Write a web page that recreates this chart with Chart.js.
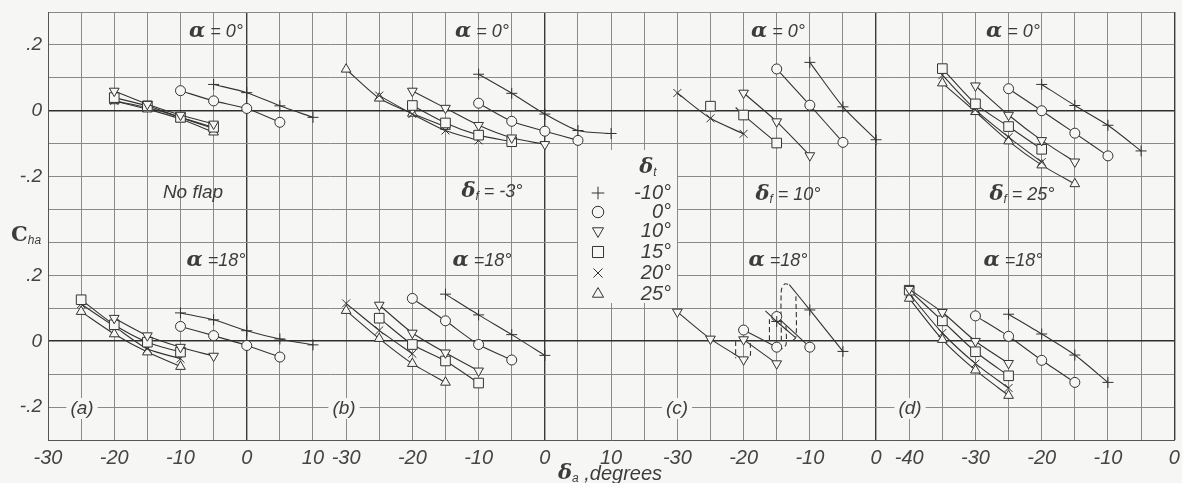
<!DOCTYPE html>
<html>
<head>
<meta charset="utf-8">
<script src="https://cdn.jsdelivr.net/npm/chart.js@4.4.1/dist/chart.umd.min.js"></script>
<style>
  html, body { margin: 0; padding: 0; background: #f6f6f4; }
  canvas { display: block; }
</style>
</head>
<body>
<canvas id="chart" width="1182" height="483"></canvas>
<script>
// series order in every panel: delta_t = -10, 0, 10, 15, 20, 25 deg  (+ o v [] x ^)
// null breaks a curve
const tabLabels = ["-10°", "0°", "10°", "15°", "20°", "25°"];
const panelTags = ["(a)", "(b)", "(c)", "(d)"];
const flapLabels = ["No flap", "-3°", "10°", "25°"];
const alphaLabels = ["0°", "18°"];

const aTicks = [-30, -20, -10, 0, 10];
const bTicks = [-30, -20, -10, 0, 10];
const cTicks = [-30, -20, -10, 0];
const dTicks = [-40, -30, -20, -10, 0];
const yTickValues = [0.2, 0, -0.2];
const yTickLabels = [".2", "0", "-.2"];

// (a) no flap
const aTop = [
  [[-5, 0.08], [0, 0.055], [5, 0.015], [10, -0.02]],
  [[-10, 0.061], [-5, 0.03], [0, 0.007], [5, -0.035]],
  [[-20, 0.06], [-15, 0.02], [-10, -0.013], [-5, -0.04]],
  [[-20, 0.04], [-15, 0.015], [-10, -0.02], [-5, -0.05]],
  [[-20, 0.03], [-15, 0.01], [-10, -0.02], [-5, -0.055]],
  [[-20, 0.03], [-15, 0.005], [-10, -0.025], [-5, -0.065]]
];
const aBottom = [
  [[-10, 0.086], [-5, 0.065], [0, 0.032], [5, 0.007], [10, -0.011]],
  [[-10, 0.045], [-5, 0.017], [0, -0.013], [5, -0.048]],
  [[-20, 0.07], [-15, 0.017], [-10, -0.018], [-5, -0.045]],
  [[-25, 0.126], [-20, 0.05], [-15, -0.003], [-10, -0.033]],
  [[-25, 0.113], [-20, 0.045], [-15, -0.023], [-10, -0.053]],
  [[-25, 0.09], [-20, 0.022], [-15, -0.033], [-10, -0.077]]
];

// (b) flap -3
const bTop = [
  [[-10, 0.111], [-5, 0.053], [0, -0.01], [5, -0.06], [10, -0.069]],
  [[-10, 0.023], [-5, -0.032], [0, -0.062], [5, -0.09]],
  [[-20, 0.06], [-15, 0.008], [-10, -0.044], [-5, -0.082], [0, -0.102]],
  [[-20, 0.016], [-15, -0.037], [-10, -0.074], [-5, -0.094]],
  [[-25, 0.046], [-20, -0.01], [-15, -0.06], [-10, -0.09]],
  [[-30, 0.126], [-25, 0.038], [-20, -0.008], [-15, -0.048]]
];
const bBottom = [
  [[-15, 0.143], [-10, 0.08], [-5, 0.02], [0, -0.043]],
  [[-20, 0.13], [-15, 0.062], [-10, -0.01], [-5, -0.057]],
  [[-25, 0.11], [-20, 0.025], [-15, -0.035], [-10, -0.09]],
  [[-25, 0.07], [-20, -0.01], [-15, -0.06], [-10, -0.127]],
  [[-30, 0.115], [-25, 0.033], [-20, -0.038]],
  [[-30, 0.093], [-25, 0.008], [-20, -0.068], [-15, -0.125]]
];

// (c) flap 10
const cTop = [
  [[-10, 0.147], [-5, 0.012], [0, -0.088]],
  [[-15, 0.127], [-10, 0.017], [-5, -0.096]],
  [[-20, 0.054], [-15, -0.033], [-10, -0.136]],
  [[-25, 0.014], null, [-21.2, 0.01], [-20, -0.013], [-15, -0.098]],
  [[-30, 0.054], [-25, -0.023], [-20, -0.07]],
  []
];
const cBottom = [
  [[-16.7, 0.092], [-15, 0.06], [-12.2, 0.012], null, [-13.1, 0.172], [-10, 0.095], [-5, -0.031]],
  [[-20, 0.034], [-15, -0.018], null, [-15, 0.075], [-10, -0.018]],
  [[-30, 0.089], [-25, 0.007], [-20, -0.056], null, [-20, 0.005], [-15, -0.068]],
  [],
  [],
  []
];
const cBottomDashed = [
  [[-21.2, 0.0], [-21.2, -0.052]],
  [[-19.0, -0.005], [-19.0, -0.045], [-19.5, -0.054]],
  [[-16.1, 0.067], [-16.1, -0.008]],
  [[-13.6, 0.047], [-13.6, -0.01], [-14.3, -0.025]],
  [[-14.3, 0.002], [-14.3, 0.155], [-13.8, 0.174], [-13.1, 0.172]],
  [[-12.1, 0.137], [-12.1, 0.012], [-12.8, 0.0]]
];

// (d) flap 25
const dTop = [
  [[-20, 0.08], [-15, 0.016], [-10, -0.044], [-5, -0.122]],
  [[-25, 0.067], [-20, 0.0], [-15, -0.068], [-10, -0.137]],
  [[-30, 0.076], [-25, -0.013], [-20, -0.09], [-15, -0.155]],
  [[-35, 0.128], [-30, 0.021], [-25, -0.048], [-20, -0.117]],
  [[-35, 0.108], [-30, 0.003], [-25, -0.08], [-20, -0.156]],
  [[-35, 0.084], [-30, -0.003], [-25, -0.092], [-20, -0.165], [-15, -0.222]]
];
const dBottom = [
  [[-25, 0.082], [-20, 0.022], [-15, -0.042], [-10, -0.125]],
  [[-30, 0.077], [-25, 0.015], [-20, -0.058], [-15, -0.125]],
  [[-40, 0.158], [-35, 0.088], [-30, 0.0], [-25, -0.067]],
  [[-40, 0.155], [-35, 0.062], [-30, -0.032], [-25, -0.105]],
  [[-40, 0.145], [-35, 0.025], [-30, -0.068], [-25, -0.142]],
  [[-40, 0.13], [-35, 0.005], [-30, -0.088], [-25, -0.165]]
];

// every panel shares one long x axis; panel k starts where the previous ends
const panelShift = [30, 75, 125, 170];
const panelTicks = [aTicks, bTicks, cTicks, dTicks];
const topShift = 0.7; // alpha = 0 row sits 7 grid cells above the alpha = 18 row

const INK = "#333";
const PAPER = "#f6f6f4";
const markerStyles = [
  { pointStyle: "cross", r: 5.5, rot: 0 },
  { pointStyle: "circle", r: 5, rot: 0 },
  { pointStyle: "triangle", r: 5.6, rot: 180 },
  { pointStyle: "rect", r: 6.8, rot: 0 },
  { pointStyle: "crossRot", r: 5.6, rot: 0 },
  { pointStyle: "triangle", r: 5.6, rot: 0 }
];

const datasets = [];

function splitRuns(pts) {
  const runs = [[]];
  pts.forEach(p => {
    if (p === null) runs.push([]);
    else runs[runs.length - 1].push(p);
  });
  return runs.filter(r => r.length);
}

function addRow(rows, p, yShift) {
  rows.forEach((pts, i) => {
    const st = markerStyles[i];
    splitRuns(pts).forEach(run => {
      datasets.push({
        data: run.map(pt => ({ x: pt[0] + panelShift[p], y: pt[1] + yShift, mark: pt[0] % 5 === 0 })),
        showLine: true,
        borderColor: INK,
        borderWidth: 1.1,
        tension: 0.25,
        pointStyle: st.pointStyle,
        pointRotation: st.rot,
        pointRadius: ctx => (ctx.raw && ctx.raw.mark ? st.r : 0),
        pointHoverRadius: ctx => (ctx.raw && ctx.raw.mark ? st.r : 0),
        pointBackgroundColor: PAPER,
        pointBorderColor: INK,
        pointBorderWidth: 1
      });
    });
  });
}

function addDashed(rows, p, yShift) {
  rows.forEach(run => {
    datasets.push({
      data: run.map(pt => ({ x: pt[0] + panelShift[p], y: pt[1] + yShift })),
      showLine: true,
      borderColor: INK,
      borderWidth: 1.1,
      borderDash: [5, 3],
      tension: 0.3,
      pointRadius: 0,
      pointHoverRadius: 0
    });
  });
}

const panels = [[aTop, aBottom], [bTop, bBottom], [cTop, cBottom], [dTop, dBottom]];
panels.forEach(([top, bottom], p) => {
  addRow(top, p, topShift);
  addRow(bottom, p, 0);
});
addDashed(cBottomDashed, 2, 0);

function near(a, b) { return Math.abs(a - b) < 1e-6; }

function xLabel(value) {
  for (let p = 0; p < panelShift.length; p++) {
    const v = value - panelShift[p];
    if (panelTicks[p].some(t => near(t, v))) return String(Math.round(v));
  }
  return "";
}

function yLabel(value) {
  for (let i = 0; i < yTickValues.length; i++) {
    if (near(value, yTickValues[i] + topShift) || near(value, yTickValues[i])) return yTickLabels[i];
  }
  return "";
}

const isPanelZero = v => panelShift.some(s => near(v, s));
const isRowZero = v => near(v, 0) || near(v, topShift);

const greek = 'bold italic 21px "DejaVu Serif"';
const lettering = 'italic 18px "Liberation Sans"';
const small = 'italic 12px "Liberation Sans"';

function rich(ctx, parts, x, y, align) {
  let w = 0;
  parts.forEach(p => { ctx.font = p.f; p.w = ctx.measureText(p.t).width; w += p.w; });
  let cx = align === "center" ? x - w / 2 : align === "right" ? x - w : x;
  ctx.textAlign = "left";
  ctx.textBaseline = "middle";
  parts.forEach(p => { ctx.font = p.f; ctx.fillText(p.t, cx, y + (p.dy || 0)); cx += p.w; });
  return w;
}

const paperPlugin = {
  id: "paper",
  beforeDraw(chart) {
    const ctx = chart.ctx;
    ctx.save();
    ctx.fillStyle = PAPER;
    ctx.fillRect(0, 0, chart.width, chart.height);
    ctx.restore();
  }
};

const notesPlugin = {
  id: "notes",
  afterDraw(chart) {
    const ctx = chart.ctx;
    ctx.save();
    ctx.fillStyle = "#3c3c3c";

    const alphaX = [216, 482, 778, 1013];
    const flapX = [193, 492, 788, 1022];
    const flapY = [193, 192, 195, 195];
    const tagX = [82, 344, 677, 910];
    alphaX.forEach((x, p) => {
      rich(ctx, [{ t: "α", f: greek }, { t: " = " + alphaLabels[0], f: lettering }], x, 32, "center");
      rich(ctx, [{ t: "α", f: greek }, { t: " =" + alphaLabels[1], f: lettering }], x, 261, "center");
      if (p === 0) {
        rich(ctx, [{ t: flapLabels[0], f: 'italic 19px "Liberation Sans"' }], flapX[p], flapY[p], "center");
      } else {
        rich(ctx, [{ t: "δ", f: greek }, { t: "f", f: small, dy: 5 }, { t: " = " + flapLabels[p], f: lettering }], flapX[p], flapY[p], "center");
      }
      ctx.font = 'italic 19px "Liberation Sans"';
      const w = ctx.measureText(panelTags[p]).width;
      ctx.fillStyle = PAPER;
      ctx.fillRect(tagX[p] - w / 2 - 4, 398, w + 8, 21);
      ctx.fillStyle = "#3c3c3c";
      rich(ctx, [{ t: panelTags[p], f: 'italic 19px "Liberation Sans"' }], tagX[p], 409, "center");
    });

    // delta_t key
    ctx.fillStyle = PAPER;
    ctx.fillRect(578, 150, 99, 153);
    ctx.fillStyle = "#3c3c3c";
    rich(ctx, [{ t: "δ", f: greek }, { t: "t", f: small, dy: 5 }], 648, 168, "center");
    const rowY = [193, 212, 231, 252, 273, 294];
    tabLabels.forEach((lab, i) => {
      const st = markerStyles[i];
      ctx.fillStyle = PAPER;
      ctx.strokeStyle = INK;
      ctx.lineWidth = 1;
      Chart.helpers.drawPoint(ctx, { pointStyle: st.pointStyle, radius: st.r * 1.15, rotation: st.rot, borderWidth: 1 }, 598, rowY[i]);
      ctx.fillStyle = "#3c3c3c";
      rich(ctx, [{ t: lab, f: 'italic 20px "Liberation Sans"' }], 671, rowY[i], "right");
    });

    // axis names
    rich(ctx, [{ t: "C", f: 'bold 21px "DejaVu Serif"' }, { t: "ha", f: small, dy: 5 }], 11, 236, "left");
    rich(ctx, [{ t: "δ", f: greek }, { t: "a", f: small, dy: 5 }, { t: " ,degrees", f: 'italic 20px "Liberation Sans"' }], 610, 474, "center");
    ctx.restore();
  }
};

new Chart(document.getElementById("chart"), {
  type: "scatter",
  data: { datasets },
  plugins: [paperPlugin, notesPlugin],
  options: {
    responsive: false,
    animation: false,
    devicePixelRatio: 1,
    layout: { padding: { top: 12, right: 7, left: 0, bottom: 0 } },
    plugins: { legend: { display: false }, tooltip: { enabled: false } },
    scales: {
      x: {
        type: "linear",
        min: 0,
        max: 170,
        afterFit: s => { s.height = 43; s.paddingLeft = 0; s.paddingRight = 0; },
        border: { display: true, color: "#555", width: 1 },
        grid: {
          drawTicks: false,
          color: ctx => (isPanelZero(ctx.tick.value) ? "#3a3a3a" : "#8a8a8a"),
          lineWidth: ctx => (isPanelZero(ctx.tick.value) ? 1.4 : 1)
        },
        ticks: {
          stepSize: 5,
          autoSkip: false,
          maxRotation: 0,
          padding: 6,
          color: "#444",
          font: { family: "Liberation Sans", size: 20, style: "italic" },
          callback: xLabel
        }
      },
      y: {
        type: "linear",
        min: -0.3,
        max: 1.0,
        afterFit: s => { s.width = 48; s.paddingTop = 0; s.paddingBottom = 0; },
        border: { display: true, color: "#555", width: 1 },
        grid: {
          drawTicks: false,
          color: ctx => (isRowZero(ctx.tick.value) ? "#2e2e2e" : "#8a8a8a"),
          lineWidth: ctx => (isRowZero(ctx.tick.value) ? 1.6 : 1)
        },
        ticks: {
          stepSize: 0.1,
          autoSkip: false,
          padding: 6,
          color: "#444",
          font: { family: "Liberation Sans", size: 19, style: "italic" },
          callback: yLabel
        }
      }
    }
  }
});
</script>
</body>
</html>
